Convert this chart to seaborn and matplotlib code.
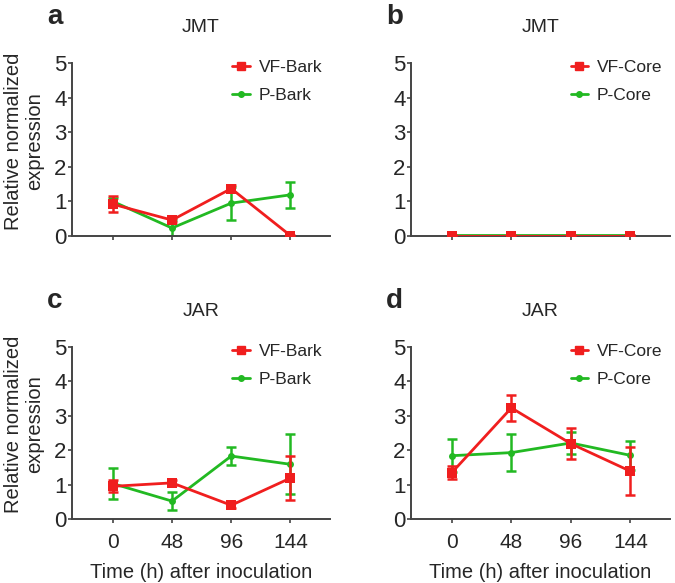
import numpy as np
import pandas as pd
import seaborn as sns
import matplotlib
matplotlib.use("Agg")
import matplotlib.pyplot as plt
from matplotlib.lines import Line2D

sns.set_style("ticks")
plt.rcParams['font.family'] = ['Liberation Sans', 'DejaVu Sans']

times = [0, 48, 96, 144]

# Panel a: JMT, bark
a_vf = [0.92, 0.46, 1.37, 0.01]
a_vf_err = [0.24, 0.05, 0.10, 0.02]
a_p = [1.00, 0.23, 0.95, 1.19]
a_p_err = [0.10, 0.22, 0.48, 0.38]

# Panel b: JMT, core
b_vf = [0.01, 0.01, 0.01, 0.01]
b_vf_err = [0.02, 0.02, 0.02, 0.02]
b_p = [0.02, 0.02, 0.02, 0.02]
b_p_err = [0.01, 0.01, 0.01, 0.01]

# Panel c: JAR, bark
c_vf = [0.95, 1.05, 0.40, 1.19]
c_vf_err = [0.17, 0.07, 0.08, 0.63]
c_p = [1.03, 0.52, 1.83, 1.59]
c_p_err = [0.45, 0.26, 0.26, 0.87]

# Panel d: JAR, core
d_vf = [1.35, 3.23, 2.19, 1.39]
d_vf_err = [0.18, 0.37, 0.46, 0.70]
d_p = [1.84, 1.93, 2.21, 1.85]
d_p_err = [0.48, 0.54, 0.33, 0.42]

RED = '#f01e1e'
GREEN = '#22b922'
SPINE = '#444444'

W, H = 675, 583
fig = plt.figure(figsize=(W / 100, H / 100), dpi=100)

def ax_px(left, right, top, bottom):
    return fig.add_axes([left / W, (H - bottom) / H, (right - left) / W, (bottom - top) / H])

panels = [
    dict(box=(72, 330, 63, 236), letter='a', title='JMT', tissue='Bark',
         vf=a_vf, vfe=a_vf_err, p=a_p, pe=a_p_err, ylab=True, xlab=False),
    dict(box=(411, 670, 63, 236), letter='b', title='JMT', tissue='Core',
         vf=b_vf, vfe=b_vf_err, p=b_p, pe=b_p_err, ylab=False, xlab=False),
    dict(box=(72, 330, 347, 519), letter='c', title='JAR', tissue='Bark',
         vf=c_vf, vfe=c_vf_err, p=c_p, pe=c_p_err, ylab=True, xlab=True),
    dict(box=(411, 670, 347, 519), letter='d', title='JAR', tissue='Core',
         vf=d_vf, vfe=d_vf_err, p=d_p, pe=d_p_err, ylab=False, xlab=True),
]

for pnl in panels:
    l, r, t, b = pnl['box']
    ax = ax_px(l, r, t, b)
    vf_lab = 'VF-' + pnl['tissue']
    p_lab = 'P-' + pnl['tissue']
    df = pd.DataFrame({
        'time': times * 2,
        'value': list(pnl['p']) + list(pnl['vf']),
        'group': [p_lab] * 4 + [vf_lab] * 4,
    })
    # error bars
    ax.errorbar(times, pnl['p'], yerr=pnl['pe'], fmt='none', ecolor=GREEN,
                elinewidth=1.8, capsize=3.5, capthick=1.8, zorder=2)
    ax.errorbar(times, pnl['vf'], yerr=pnl['vfe'], fmt='none', ecolor=RED,
                elinewidth=1.8, capsize=3.5, capthick=1.8, zorder=3)
    sns.lineplot(data=df[df.group == p_lab], x='time', y='value', color=GREEN,
                 marker='o', markersize=5, markeredgewidth=0, linewidth=2.0,
                 ax=ax, legend=False, zorder=2)
    sns.lineplot(data=df[df.group == vf_lab], x='time', y='value', color=RED,
                 marker='s', markersize=7.5, markeredgewidth=0, linewidth=2.0,
                 ax=ax, legend=False, zorder=3)
    ax.set_xlim(-33, 176)
    ax.set_ylim(0, 5)
    ax.set_yticks([0, 1, 2, 3, 4, 5])
    ax.set_xticks(times)
    sns.despine(ax=ax)
    for s in ['left', 'bottom']:
        ax.spines[s].set_color(SPINE)
        ax.spines[s].set_linewidth(1.4)
    ax.tick_params(axis='y', labelsize=16, length=3, width=1.2, color=SPINE, pad=1)
    ax.tick_params(axis='x', labelsize=15, length=3, width=1.2, color=SPINE, pad=7)
    if not pnl['xlab']:
        ax.set_xticklabels([])
        ax.set_xlabel('')
    else:
        ax.set_xlabel('Time (h) after inoculation', fontsize=14.5, labelpad=8)
    if pnl['ylab']:
        ax.set_ylabel('Relative normalized\nexpression', fontsize=14.5,
                      linespacing=1.1)
        ax.yaxis.set_label_coords(-28 / (r - l), 0.55)
    else:
        ax.set_ylabel('')
    handles = [Line2D([], [], color=RED, marker='s', markersize=5.5, lw=2),
               Line2D([], [], color=GREEN, marker='o', markersize=4, lw=2)]
    ax.legend(handles, [vf_lab, p_lab], loc='upper right', frameon=False,
              fontsize=12.5, handlelength=1.0, handletextpad=0.5,
              labelspacing=0.75, bbox_to_anchor=(1.03, 1.11))
    cx = (l + r) / 2
    fig.text(cx / W, 1 - (t - 36) / H, pnl['title'], ha='center', va='center',
             fontsize=14)
    fig.text((l - 25) / W, 1 - (t - 46) / H, pnl['letter'], ha='left',
             va='center', fontsize=20, fontweight='bold')

fig.savefig('out.png', dpi=100, facecolor='white')
